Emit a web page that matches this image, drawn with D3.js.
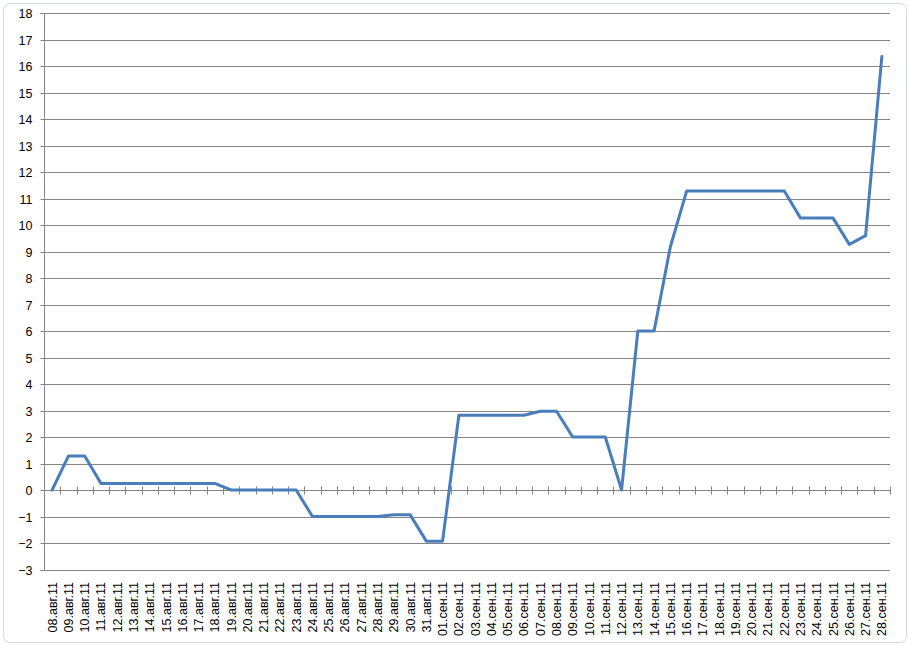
<!DOCTYPE html>
<html><head><meta charset="utf-8">
<script src="https://cdn.jsdelivr.net/npm/d3@7"></script>
<style>body{margin:0;background:#fff}svg{display:block}</style>
</head><body>
<svg id="c" width="910" height="646"></svg>
<script>
const categories = ["08.авг.11","09.авг.11","10.авг.11","11.авг.11","12.авг.11","13.авг.11","14.авг.11","15.авг.11","16.авг.11","17.авг.11","18.авг.11","19.авг.11","20.авг.11","21.авг.11","22.авг.11","23.авг.11","24.авг.11","25.авг.11","26.авг.11","27.авг.11","28.авг.11","29.авг.11","30.авг.11","31.авг.11","01.сен.11","02.сен.11","03.сен.11","04.сен.11","05.сен.11","06.сен.11","07.сен.11","08.сен.11","09.сен.11","10.сен.11","11.сен.11","12.сен.11","13.сен.11","14.сен.11","15.сен.11","16.сен.11","17.сен.11","18.сен.11","19.сен.11","20.сен.11","21.сен.11","22.сен.11","23.сен.11","24.сен.11","25.сен.11","26.сен.11","27.сен.11","28.сен.11"];
const values = [0,1.28,1.28,0.25,0.25,0.25,0.25,0.25,0.25,0.25,0.25,0,0,0,0,0,-1,-1,-1,-1,-1,-0.93,-0.93,-1.93,-1.93,2.82,2.82,2.82,2.82,2.82,2.97,2.97,2.0,2.0,2.0,0,6.0,6.0,9.18,11.28,11.28,11.28,11.28,11.28,11.28,11.28,10.26,10.26,10.26,9.27,9.6,16.36];
const yTicks = [-3,-2,-1,0,1,2,3,4,5,6,7,8,9,10,11,12,13,14,15,16,17,18];

(function(){
const svg = d3.select("#c");
const W = 910, H = 646;
const pl = 44, pr = 890, pt = 13, pb = 569.5;
const font = "'Liberation Sans', Arial, sans-serif";

svg.append("rect").attr("x",3.5).attr("y",3.5).attr("width",W-7).attr("height",H-7)
  .attr("rx",6).attr("fill","#fff").attr("stroke","#d3dbe0").attr("stroke-width",1);

const x = d3.scaleBand().domain(categories).range([pl, pr]).padding(0);
const y = d3.scaleLinear().domain([-3,18]).range([pb, pt]);

svg.append("g").selectAll("line").data(yTicks).join("line")
  .attr("x1", pl).attr("x2", pr)
  .attr("y1", d => Math.round(y(d))+0.5).attr("y2", d => Math.round(y(d))+0.5)
  .attr("stroke","#868686").attr("stroke-width",1);

const yAxis = d3.axisLeft(y).tickValues(yTicks).tickSize(4).tickPadding(8).tickFormat(d3.format("d"));
const gy = svg.append("g").attr("transform",`translate(${pl+0.5},0.5)`).call(yAxis);
gy.select(".domain").attr("stroke","#868686").attr("d",`M-4,${Math.round(y(18))}H0V${Math.round(y(-3))}H-4`);
gy.selectAll(".tick line").attr("stroke","#868686");
gy.selectAll(".tick text").attr("font-family",font).attr("font-size","12.5px").attr("fill","#000");
gy.selectAll(".tick").attr("transform", d => `translate(0,${Math.round(y(d))})`);

const y0 = Math.round(y(0))+0.5;
const bounds = categories.map(c => x(c)).concat([pr]);
svg.append("g").selectAll("line").data(bounds).join("line")
  .attr("x1", d => Math.round(d)+0.5).attr("x2", d => Math.round(d)+0.5)
  .attr("y1", y0-4).attr("y2", y0+4)
  .attr("stroke","#868686");
svg.append("line").attr("x1",pl).attr("x2",pr).attr("y1",y0).attr("y2",y0).attr("stroke","#868686");

svg.append("g").selectAll("text").data(categories).join("text")
  .attr("transform", d => `translate(${x(d)+x.bandwidth()/2+4.5},${582}) rotate(-90)`)
  .attr("text-anchor","end")
  .attr("font-family",font).attr("font-size","12.5px").attr("fill","#000")
  .text(d => d);

const line = d3.line().x((d,i) => x(categories[i]) + x.bandwidth()/2).y(d => y(d));
svg.append("path").datum(values).attr("d", line)
  .attr("fill","none").attr("stroke","#4a7ebb").attr("stroke-width",3)
  .attr("stroke-linejoin","round").attr("stroke-linecap","round");
})();
</script>
</body></html>
